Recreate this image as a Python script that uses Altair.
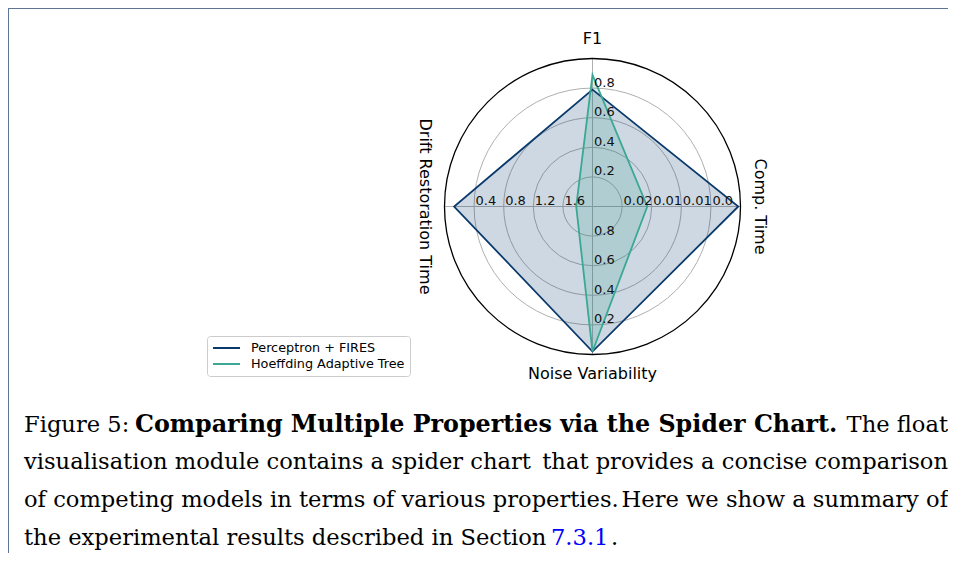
import altair as alt
import pandas as pd

# ---------------- data ----------------
AXES = ["F1", "Comp. Time", "Noise Variability", "Drift Restoration Time"]
RING_LEVELS = [0.2, 0.4, 0.6, 0.8]
TICK_F1 = ["0.2", "0.4", "0.6", "0.8"]
TICK_COMP = ["0.02", "0.01", "0.01", "0.0"]
TICK_NOISE = ["0.8", "0.6", "0.4", "0.2"]
TICK_DRIFT = ["1.6", "1.2", "0.8", "0.4"]
MODELS = ["Perceptron + FIRES", "Hoeffding Adaptive Tree"]
# normalised radial scores (fraction of the outer circle) per axis
PERCEPTRON = [0.79, 0.985, 0.98, 0.935]
HAT = [0.89, 0.37, 0.98, 0.11]

CAPTION_L1A = "Figure 5:"
CAPTION_L1B = "Comparing Multiple Properties via the Spider Chart."
CAPTION_L1C = "The float"
CAPTION_L2A = "visualisation module contains a spider chart"
CAPTION_L2B = "that provides a concise comparison"
CAPTION_L3A = "of competing models in terms of various properties."
CAPTION_L3B = "Here we show a summary of"
CAPTION_L4A = "the experimental results described in Section"
CAPTION_L4B = "7.3.1"
CAPTION_L4C = "."

# ---------------- layout / style ----------------
COLORS = ["#0a3a6c", "#3aa894"]
W, H = 940, 545
CX, CY = 584.5, 198.5
R = 148.0
LABEL_R = 1.13
N = len(AXES)
XD = [-CX / R, (W - CX) / R]
YD = [-(H - CY) / R, CY / R]
SANS = "DejaVu Sans"
SERIF = "DejaVu Serif"
CAP_SIZE = 22.6
CAP_BOLD_SIZE = 23.8

xs = alt.Scale(domain=XD, nice=False, zero=False)
ys = alt.Scale(domain=YD, nice=False, zero=False)


def polar(chart):
    return chart.transform_calculate(
        theta=f"datum.ai * 2 * PI / {N}"
    ).transform_calculate(
        px="datum.r * sin(datum.theta)", py="datum.r * cos(datum.theta)"
    )


def XY():
    return dict(x=alt.X("px:Q", scale=xs, axis=None), y=alt.Y("py:Q", scale=ys, axis=None))


# rings
rings_df = pd.DataFrame({"level": RING_LEVELS})
rings = alt.Chart(rings_df).mark_point(
    shape="circle", filled=False, color="#b0b0b0", strokeWidth=1, opacity=1
).transform_calculate(
    px="0", py="0", sz=f"pow(2 * datum.level * {R}, 2)"
).encode(**XY(), size=alt.Size("sz:Q", scale=None))

outer_df = pd.DataFrame({"level": [1.0]})
outer = alt.Chart(outer_df).mark_point(
    shape="circle", filled=False, color="#000000", strokeWidth=1.3, opacity=1
).transform_calculate(
    px="0", py="0", sz=f"pow(2 * datum.level * {R}, 2)"
).encode(**XY(), size=alt.Size("sz:Q", scale=None))

# spokes
spokes_df = pd.DataFrame({"ai": list(range(N)), "axis": AXES})
spokes = alt.Chart(spokes_df).mark_rule(color="#b0b0b0", strokeWidth=1).transform_calculate(
    theta=f"datum.ai * 2 * PI / {N}"
).transform_calculate(
    px="0", py="0", ex="sin(datum.theta)", ey="cos(datum.theta)"
).encode(
    x=alt.X("px:Q", scale=xs, axis=None), y=alt.Y("py:Q", scale=ys, axis=None),
    x2="ex:Q", y2="ey:Q"
)

# series
rows = []
for m, vals in zip(MODELS, [PERCEPTRON, HAT]):
    for i, v in enumerate(vals):
        rows.append({"model": m, "ai": i, "r": v})
series_df = pd.DataFrame(rows)

color_scale = alt.Scale(domain=MODELS, range=COLORS)
legend = alt.Legend(
    title=None, orient="none", legendX=199, legendY=328,
    fillColor="#ffffff", strokeColor="#cccccc", cornerRadius=3, padding=5,
    symbolType="stroke", symbolSize=729, symbolStrokeWidth=1.8,
    labelFont=SANS, labelFontSize=12.8, labelColor="#000000", labelOffset=10,
    clipHeight=14, rowPadding=2,
)

fills = []
lines = []
for m, c in zip(MODELS, COLORS):
    fills.append(
        polar(alt.Chart(series_df).transform_filter(alt.datum.model == m)).mark_line(
            interpolate="linear-closed", fill=c, fillOpacity=0.2, strokeOpacity=0
        ).encode(**XY(), order="ai:Q")
    )
    lines.append(
        polar(alt.Chart(series_df).transform_filter(alt.datum.model == m)).mark_line(
            interpolate="linear-closed", strokeWidth=1.8
        ).encode(**XY(), order="ai:Q",
                 color=alt.Color("model:N", scale=color_scale, legend=legend))
    )

# tick labels
trows = []
for i, labs in enumerate([TICK_F1, TICK_COMP, TICK_NOISE, TICK_DRIFT]):
    for lev, lab in zip(RING_LEVELS, labs):
        trows.append({"ai": i, "r": lev, "label": lab})
ticks_df = pd.DataFrame(trows)
ticks = polar(alt.Chart(ticks_df)).mark_text(
    align="left", baseline="alphabetic", dx=1.5, dy=-1.5,
    font=SANS, fontSize=13, color="#111111"
).encode(**XY(), text="label:N")

# axis labels
alabels = polar(alt.Chart(spokes_df).transform_calculate(
    r=f"{LABEL_R}", ang="datum.ai % 2 == 1 ? 90 : 0"
)).mark_text(
    align="center", baseline="middle", font=SANS, fontSize=16, color="#000000"
).encode(**XY(), text="axis:N", angle=alt.Angle("ang:Q", scale=None))


def piece(txt, x, y, align="left", bold=False, color="#000000"):
    kw = dict(align=align, baseline="alphabetic", font=SERIF,
              fontSize=CAP_BOLD_SIZE if bold else CAP_SIZE, color=color)
    if bold:
        kw["fontWeight"] = "bold"
    return alt.Chart(pd.DataFrame({"t": [txt]})).mark_text(**kw).encode(
        x=alt.value(x), y=alt.value(y), text="t:N"
    )


B = [423.5, 461.3, 499.1, 536.9]
caption = [
    piece(CAPTION_L1A, 16, B[0]),
    piece(CAPTION_L1B, 127, B[0], bold=True),
    piece(CAPTION_L1C, 940, B[0], align="right"),
    piece(CAPTION_L2A, 16, B[1]),
    piece(CAPTION_L2B, 940, B[1], align="right"),
    piece(CAPTION_L3A, 16, B[2]),
    piece(CAPTION_L3B, 940, B[2], align="right"),
    piece(CAPTION_L4A, 16, B[3]),
    piece(CAPTION_L4B, 543, B[3], color="#0000ff"),
    piece(CAPTION_L4C, 603, B[3]),
]

dummy = pd.DataFrame({"d": [0]})
frame_top = alt.Chart(dummy).mark_rule(color="#5d7694", strokeWidth=2).encode(
    x=alt.value(0), x2=alt.value(W), y=alt.value(0)
)
frame_left = alt.Chart(dummy).mark_rule(color="#5d7694", strokeWidth=2).encode(
    x=alt.value(0), y=alt.value(0), y2=alt.value(H)
)

chart = alt.layer(
    rings, spokes, *fills, outer, *lines, ticks, alabels, *caption, frame_top, frame_left
).properties(
    width=W, height=H, padding=0, autosize=alt.AutoSizeParams(type="none"),
    background="#ffffff"
).configure_view(strokeWidth=0)

chart.save("out.html", embed_options={"renderer": "svg", "actions": False})
